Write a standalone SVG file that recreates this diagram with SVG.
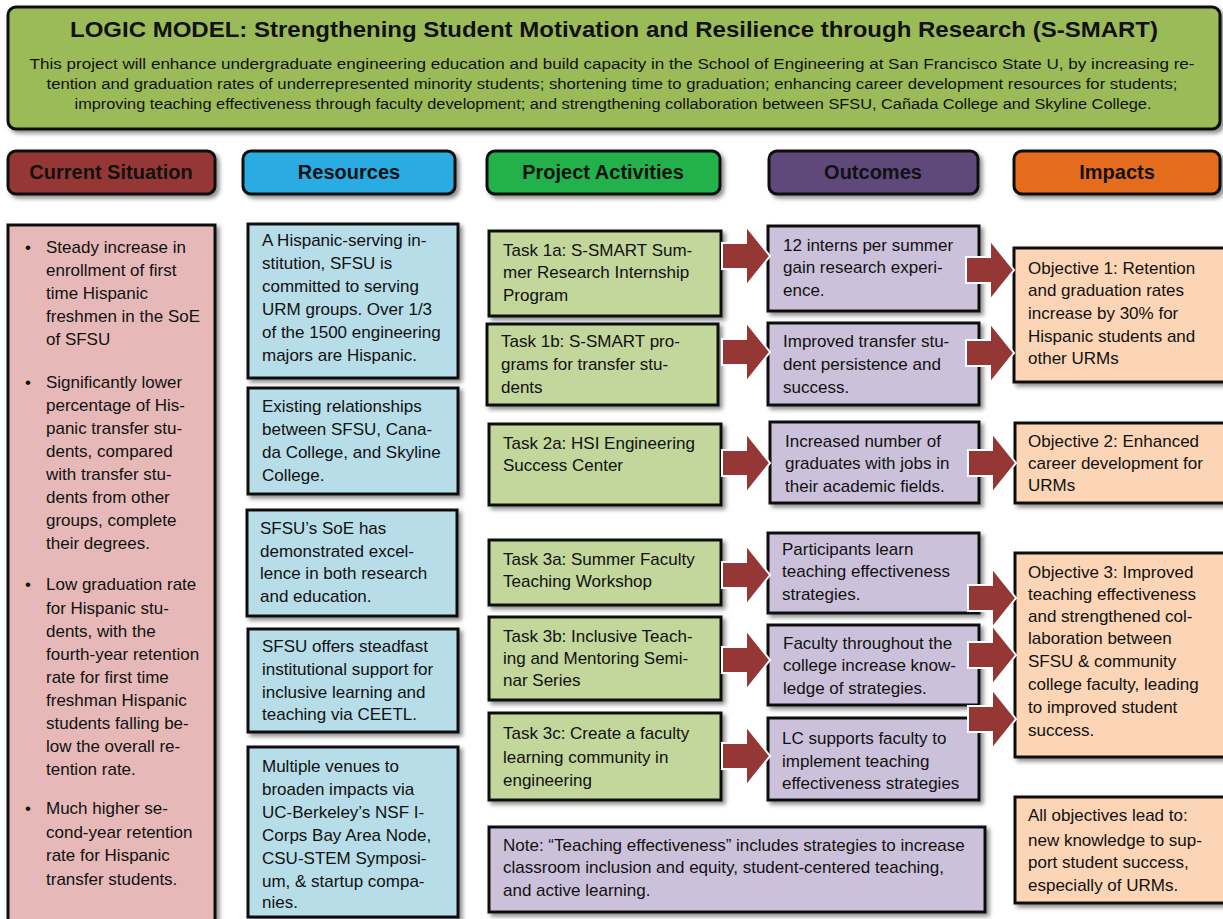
<svg xmlns="http://www.w3.org/2000/svg" width="1223" height="919" viewBox="0 0 1223 919">
<style>
text{font-family:"Liberation Sans",Arial,Helvetica,sans-serif;fill:#111}
.t{font-size:17px}
.h{font-size:20px;font-weight:bold;text-anchor:middle}
.box{stroke:#111;stroke-width:3}
.hdr{stroke:#111;stroke-width:3}
.arr{fill:#953735;stroke:#fff;stroke-width:2}
</style>
<defs>
<filter id="sh" x="-10%" y="-10%" width="130%" height="130%">
<feDropShadow dx="3" dy="3" stdDeviation="2" flood-color="#000" flood-opacity="0.45"/>
</filter>
<path id="ar" d="M0,-13 L24,-13 L24,-30 L48,0 L24,30 L24,13 L0,13 Z"/>
</defs>
<rect width="1223" height="919" fill="#fff"/>

<g id="title">
<rect x="8" y="7" width="1212" height="122" rx="8" fill="#9bbb59" class="hdr" filter="url(#sh)"/>
<text x="614" y="37" text-anchor="middle" font-size="22" font-weight="bold" textLength="1088" lengthAdjust="spacingAndGlyphs">LOGIC MODEL: Strengthening Student Motivation and Resilience through Research (S-SMART)</text>
<text x="612" y="69" text-anchor="middle" font-size="15.5" textLength="1165" lengthAdjust="spacingAndGlyphs">This project will enhance undergraduate engineering education and build capacity in the School of Engineering at San Francisco State U, by increasing re-</text>
<text x="612" y="89" text-anchor="middle" font-size="15.5" textLength="1131" lengthAdjust="spacingAndGlyphs">tention and graduation rates of underrepresented minority students; shortening time to graduation; enhancing career development resources for students;</text>
<text x="613" y="109" text-anchor="middle" font-size="15.5" textLength="1077" lengthAdjust="spacingAndGlyphs">improving teaching effectiveness through faculty development; and strengthening collaboration between SFSU, Cañada College and Skyline College.</text>
</g>

<g id="hdr-current"><rect x="8" y="151" width="207" height="43" rx="8" fill="#953735" class="hdr" filter="url(#sh)"/><text x="111" y="179" class="h">Current Situation</text></g>
<g id="hdr-resources"><rect x="243" y="151" width="212" height="43" rx="8" fill="#29abe2" class="hdr" filter="url(#sh)"/><text x="349" y="179" class="h">Resources</text></g>
<g id="hdr-activities"><rect x="487" y="151" width="233" height="43" rx="8" fill="#22b14c" class="hdr" filter="url(#sh)"/><text x="603" y="179" class="h">Project Activities</text></g>
<g id="hdr-outcomes"><rect x="769" y="151" width="209" height="43" rx="8" fill="#5f497a" class="hdr" filter="url(#sh)"/><text x="873" y="179" class="h">Outcomes</text></g>
<g id="hdr-impacts"><rect x="1014" y="151" width="206" height="43" rx="8" fill="#e46c1c" class="hdr" filter="url(#sh)"/><text x="1117" y="179" class="h">Impacts</text></g>

<g id="current">
<rect x="8" y="225" width="207" height="710" fill="#e6b9b8" class="box" filter="url(#sh)"/>
<text class="t">
<tspan x="25" y="253">•</tspan><tspan x="46" y="253">Steady increase in</tspan>
<tspan x="46" y="276">enrollment of first</tspan>
<tspan x="46" y="299">time Hispanic</tspan>
<tspan x="46" y="322">freshmen in the SoE</tspan>
<tspan x="46" y="345">of SFSU</tspan>
<tspan x="25" y="388">•</tspan><tspan x="46" y="388">Significantly lower</tspan>
<tspan x="46" y="411">percentage of His-</tspan>
<tspan x="46" y="434">panic transfer stu-</tspan>
<tspan x="46" y="457">dents, compared</tspan>
<tspan x="46" y="480">with transfer stu-</tspan>
<tspan x="46" y="503">dents from other</tspan>
<tspan x="46" y="526">groups, complete</tspan>
<tspan x="46" y="549">their degrees.</tspan>
<tspan x="25" y="590">•</tspan><tspan x="46" y="590">Low graduation rate</tspan>
<tspan x="46" y="614">for Hispanic stu-</tspan>
<tspan x="46" y="637">dents, with the</tspan>
<tspan x="46" y="660">fourth-year retention</tspan>
<tspan x="46" y="683">rate for first time</tspan>
<tspan x="46" y="706">freshman Hispanic</tspan>
<tspan x="46" y="729">students falling be-</tspan>
<tspan x="46" y="752">low the overall re-</tspan>
<tspan x="46" y="775">tention rate.</tspan>
<tspan x="25" y="814">•</tspan><tspan x="46" y="814">Much higher se-</tspan>
<tspan x="46" y="838">cond-year retention</tspan>
<tspan x="46" y="861">rate for Hispanic</tspan>
<tspan x="46" y="885">transfer students.</tspan>
</text>
</g>

<g id="res1"><rect x="248" y="224" width="210" height="154" fill="#b7dde8" class="box" filter="url(#sh)"/>
<text class="t"><tspan x="262" y="246">A Hispanic-serving in-</tspan><tspan x="262" y="269">stitution, SFSU is</tspan><tspan x="262" y="292">committed to serving</tspan><tspan x="262" y="315">URM groups. Over 1/3</tspan><tspan x="262" y="338">of the 1500 engineering</tspan><tspan x="262" y="361">majors are Hispanic.</tspan></text></g>
<g id="res2"><rect x="248" y="388" width="210" height="106" fill="#b7dde8" class="box" filter="url(#sh)"/>
<text class="t"><tspan x="262" y="412">Existing relationships</tspan><tspan x="262" y="435">between SFSU, Cana-</tspan><tspan x="262" y="458">da College, and Skyline</tspan><tspan x="262" y="481">College.</tspan></text></g>
<g id="res3"><rect x="247" y="510" width="210" height="106" fill="#b7dde8" class="box" filter="url(#sh)"/>
<text class="t"><tspan x="260" y="534">SFSU’s SoE has</tspan><tspan x="260" y="557">demonstrated excel-</tspan><tspan x="260" y="579">lence in both research</tspan><tspan x="260" y="602">and education.</tspan></text></g>
<g id="res4"><rect x="248" y="629" width="210" height="103" fill="#b7dde8" class="box" filter="url(#sh)"/>
<text class="t"><tspan x="262" y="652">SFSU offers steadfast</tspan><tspan x="262" y="675">institutional support for</tspan><tspan x="262" y="698">inclusive learning and</tspan><tspan x="262" y="720">teaching via CEETL.</tspan></text></g>
<g id="res5"><rect x="248" y="747" width="210" height="170" fill="#b7dde8" class="box" filter="url(#sh)"/>
<text class="t"><tspan x="262" y="772">Multiple venues to</tspan><tspan x="262" y="795">broaden impacts via</tspan><tspan x="262" y="818">UC-Berkeley’s NSF I-</tspan><tspan x="262" y="841">Corps Bay Area Node,</tspan><tspan x="262" y="864">CSU-STEM Symposi-</tspan><tspan x="262" y="887">um, &amp; startup compa-</tspan><tspan x="262" y="908">nies.</tspan></text></g>

<g id="task1a"><rect x="489" y="231" width="232" height="85" fill="#c3d69b" class="box" filter="url(#sh)"/>
<text class="t"><tspan x="503" y="256">Task 1a: S-SMART Sum-</tspan><tspan x="503" y="278">mer Research Internship</tspan><tspan x="503" y="301">Program</tspan></text></g>
<g id="task1b"><rect x="487" y="324" width="231" height="81" fill="#c3d69b" class="box" filter="url(#sh)"/>
<text class="t"><tspan x="501" y="347">Task 1b: S-SMART pro-</tspan><tspan x="501" y="370">grams for transfer stu-</tspan><tspan x="501" y="393">dents</tspan></text></g>
<g id="task2a"><rect x="489" y="424" width="232" height="81" fill="#c3d69b" class="box" filter="url(#sh)"/>
<text class="t"><tspan x="503" y="449">Task 2a: HSI Engineering</tspan><tspan x="503" y="471">Success Center</tspan></text></g>
<g id="task3a"><rect x="489" y="540" width="232" height="65" fill="#c3d69b" class="box" filter="url(#sh)"/>
<text class="t"><tspan x="503" y="565">Task 3a: Summer Faculty</tspan><tspan x="503" y="587">Teaching Workshop</tspan></text></g>
<g id="task3b"><rect x="489" y="617" width="232" height="83" fill="#c3d69b" class="box" filter="url(#sh)"/>
<text class="t"><tspan x="503" y="642">Task 3b: Inclusive Teach-</tspan><tspan x="503" y="664">ing and Mentoring Semi-</tspan><tspan x="503" y="686">nar Series</tspan></text></g>
<g id="task3c"><rect x="489" y="713" width="232" height="87" fill="#c3d69b" class="box" filter="url(#sh)"/>
<text class="t"><tspan x="503" y="739">Task 3c: Create a faculty</tspan><tspan x="503" y="763">learning community in</tspan><tspan x="503" y="786">engineering</tspan></text></g>

<g id="out1"><rect x="768" y="226" width="211" height="85" fill="#ccc1da" class="box" filter="url(#sh)"/>
<text class="t"><tspan x="783" y="251">12 interns per summer</tspan><tspan x="783" y="273">gain research experi-</tspan><tspan x="783" y="296">ence.</tspan></text></g>
<g id="out2"><rect x="768" y="323" width="211" height="82" fill="#ccc1da" class="box" filter="url(#sh)"/>
<text class="t"><tspan x="783" y="347">Improved transfer stu-</tspan><tspan x="783" y="370">dent persistence and</tspan><tspan x="783" y="393">success.</tspan></text></g>
<g id="out3"><rect x="770" y="422" width="209" height="81" fill="#ccc1da" class="box" filter="url(#sh)"/>
<text class="t"><tspan x="785" y="447">Increased number of</tspan><tspan x="785" y="469">graduates with jobs in</tspan><tspan x="785" y="492">their academic fields.</tspan></text></g>
<g id="out4"><rect x="768" y="533" width="211" height="80" fill="#ccc1da" class="box" filter="url(#sh)"/>
<text class="t"><tspan x="782" y="555">Participants learn</tspan><tspan x="782" y="577">teaching effectiveness</tspan><tspan x="782" y="600">strategies.</tspan></text></g>
<g id="out5"><rect x="768" y="625" width="211" height="80" fill="#ccc1da" class="box" filter="url(#sh)"/>
<text class="t"><tspan x="783" y="649">Faculty throughout the</tspan><tspan x="783" y="671">college increase know-</tspan><tspan x="783" y="694">ledge of strategies.</tspan></text></g>
<g id="out6"><rect x="768" y="718" width="211" height="82" fill="#ccc1da" class="box" filter="url(#sh)"/>
<text class="t"><tspan x="782" y="744">LC supports faculty to</tspan><tspan x="782" y="767">implement teaching</tspan><tspan x="782" y="789">effectiveness strategies</tspan></text></g>

<g id="obj1"><rect x="1014" y="248" width="215" height="134" fill="#fbd5b5" class="box" filter="url(#sh)"/>
<text class="t"><tspan x="1028" y="274">Objective 1: Retention</tspan><tspan x="1028" y="296">and graduation rates</tspan><tspan x="1028" y="319">increase by 30% for</tspan><tspan x="1028" y="342">Hispanic students and</tspan><tspan x="1028" y="364">other URMs</tspan></text></g>
<g id="obj2"><rect x="1015" y="423" width="214" height="80" fill="#fbd5b5" class="box" filter="url(#sh)"/>
<text class="t"><tspan x="1028" y="447">Objective 2: Enhanced</tspan><tspan x="1028" y="469">career development for</tspan><tspan x="1028" y="491">URMs</tspan></text></g>
<g id="obj3"><rect x="1015" y="553" width="214" height="204" fill="#fbd5b5" class="box" filter="url(#sh)"/>
<text class="t"><tspan x="1028" y="578">Objective 3: Improved</tspan><tspan x="1028" y="600">teaching effectiveness</tspan><tspan x="1028" y="622">and strengthened col-</tspan><tspan x="1028" y="644">laboration between</tspan><tspan x="1028" y="667">SFSU &amp; community</tspan><tspan x="1028" y="690">college faculty, leading</tspan><tspan x="1028" y="713">to improved student</tspan><tspan x="1028" y="736">success.</tspan></text></g>
<g id="allobj"><rect x="1015" y="797" width="214" height="106" fill="#fbd5b5" class="box" filter="url(#sh)"/>
<text class="t"><tspan x="1028" y="821">All objectives lead to:</tspan><tspan x="1028" y="846">new knowledge to sup-</tspan><tspan x="1028" y="868">port student success,</tspan><tspan x="1028" y="891">especially of URMs.</tspan></text></g>

<g id="note"><rect x="489" y="827" width="496" height="85" fill="#ccc1da" class="box" filter="url(#sh)"/>
<text class="t"><tspan x="503" y="851">Note: “Teaching effectiveness” includes strategies to increase</tspan><tspan x="503" y="873">classroom inclusion and equity, student-centered teaching,</tspan><tspan x="503" y="896">and active learning.</tspan></text></g>

<g id="connectors">
<use href="#ar" class="arr" transform="translate(722,256)"/>
<use href="#ar" class="arr" transform="translate(722,352)"/>
<use href="#ar" class="arr" transform="translate(722,463)"/>
<use href="#ar" class="arr" transform="translate(722,575)"/>
<use href="#ar" class="arr" transform="translate(722,660)"/>
<use href="#ar" class="arr" transform="translate(722,756)"/>
<use href="#ar" class="arr" transform="translate(966,270)"/>
<use href="#ar" class="arr" transform="translate(966,353)"/>
<use href="#ar" class="arr" transform="translate(968,463)"/>
<use href="#ar" class="arr" transform="translate(968,598)"/>
<use href="#ar" class="arr" transform="translate(968,655)"/>
<use href="#ar" class="arr" transform="translate(968,719)"/>
</g>
</svg>
